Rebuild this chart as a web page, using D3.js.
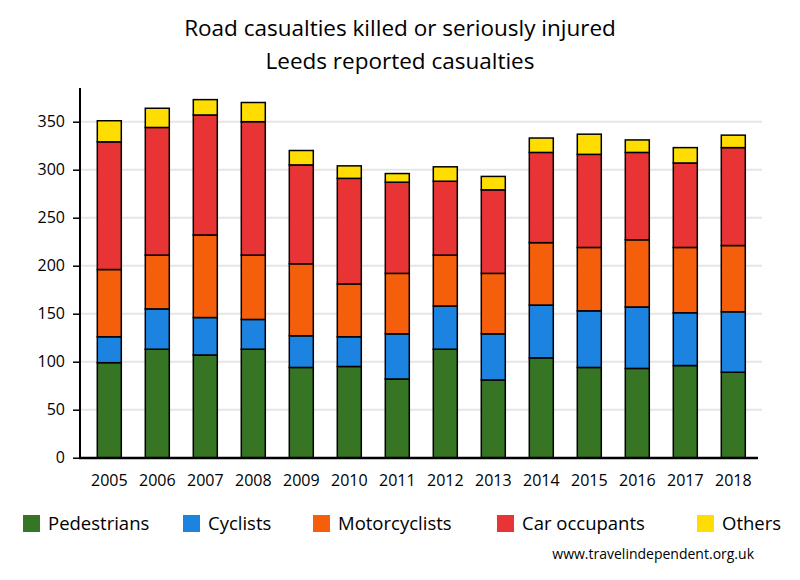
<!DOCTYPE html>
<html>
<head>
<meta charset="utf-8">
<script src="https://cdn.jsdelivr.net/npm/d3@7"></script>
<style>
  html, body { margin: 0; padding: 0; background: #fff; }
  svg { display: block; font-family: "Open Sans", "Noto Sans", sans-serif; }
</style>
</head>
<body>
<svg id="chart" width="800" height="580"></svg>
<script>
const years = ["2005","2006","2007","2008","2009","2010","2011","2012","2013","2014","2015","2016","2017","2018"];
const seriesNames = ["Pedestrians","Cyclists","Motorcyclists","Car occupants","Others"];
const pedestrians   = [99,113,107,113,94,95,82,113,81,104,94,93,96,89];
const cyclists      = [27,42,39,31,33,31,47,45,48,55,59,64,55,63];
const motorcyclists = [70,56,86,67,75,55,63,53,63,65,66,70,68,69];
const carOccupants  = [133,133,125,139,103,110,95,77,87,94,97,91,88,102];
const others        = [22,20,16,20,15,13,9,15,14,15,21,13,16,13];
const yTicks = [0,50,100,150,200,250,300,350];
const colors = ["#367523","#1c83e1","#f55f0b","#e83434","#ffdd00"];
const titleLines = ["Road casualties killed or seriously injured","Leeds reported casualties"];
const sourceText = "www.travelindependent.org.uk";

const seriesValues = [pedestrians, cyclists, motorcyclists, carOccupants, others];
const table = years.map((yr, i) => {
  const row = { year: yr };
  seriesNames.forEach((s, k) => row[s] = seriesValues[k][i]);
  return row;
});
const stacked = d3.stack().keys(seriesNames)(table);

const svg = d3.select("#chart");

const x = d3.scaleBand().domain(years).range([85.3, 757.3]).paddingInner(0.5).paddingOuter(0.25);
const y = d3.scaleLinear().domain([0, 385]).range([457.7, 88.1]);

// gridlines
svg.append("g").selectAll("line").data(yTicks.filter(t => t > 0)).join("line")
  .attr("x1", 80).attr("x2", 762)
  .attr("y1", d => y(d)).attr("y2", d => y(d))
  .attr("stroke", "#e6e6e6").attr("stroke-width", 2);

// bars
svg.append("g").selectAll("g").data(stacked).join("g")
  .attr("fill", (d, i) => colors[i])
  .selectAll("rect").data(d => d).join("rect")
  .attr("x", d => x(d.data.year))
  .attr("width", x.bandwidth())
  .attr("y", d => y(d[1]))
  .attr("height", d => y(d[0]) - y(d[1]))
  .attr("stroke", "#000").attr("stroke-width", 1.5);

// y axis
const yAxis = svg.append("g").attr("transform", "translate(80,0)")
  .call(d3.axisLeft(y).tickValues(yTicks).tickSize(7).tickPadding(8));
yAxis.select(".domain").remove();
yAxis.selectAll(".tick line").attr("stroke", "#000").attr("stroke-width", 1.5);
yAxis.selectAll(".tick text").attr("font-size", 16).attr("fill", "#000")
  .attr("font-family", "'Open Sans', sans-serif");
svg.append("line").attr("x1", 80).attr("x2", 80).attr("y1", y.range()[1]).attr("y2", 459)
  .attr("stroke", "#000").attr("stroke-width", 2);

// x axis
const xAxis = svg.append("g").attr("transform", "translate(0,458)")
  .call(d3.axisBottom(x).tickSize(0).tickPadding(17));
xAxis.select(".domain").remove();
xAxis.selectAll(".tick text").attr("font-size", 16).attr("fill", "#000")
  .attr("font-family", "'Open Sans', sans-serif");
svg.append("line").attr("x1", 79).attr("x2", 758).attr("y1", 458).attr("y2", 458)
  .attr("stroke", "#000").attr("stroke-width", 2.5);

// title
svg.append("g").selectAll("text").data(titleLines).join("text")
  .attr("x", 400).attr("y", (d, i) => 36 + i * 33)
  .attr("text-anchor", "middle").attr("font-size", 22.5).attr("fill", "#000")
  .text(d => d);

// legend
const legendX = [23, 183, 313, 497, 697];
const lg = svg.append("g").selectAll("g").data(seriesNames).join("g")
  .attr("transform", (d, i) => `translate(${legendX[i]},515)`);
lg.append("rect").attr("width", 17).attr("height", 17).attr("fill", (d, i) => colors[i]);
lg.append("text").attr("x", 25).attr("y", 9).attr("dy", "0.35em")
  .attr("font-size", 18.5).attr("fill", "#000").text(d => d);

// source
svg.append("text").attr("x", 754).attr("y", 559).attr("text-anchor", "end")
  .attr("font-size", 14).attr("fill", "#000").text(sourceText);
</script>
</body>
</html>
